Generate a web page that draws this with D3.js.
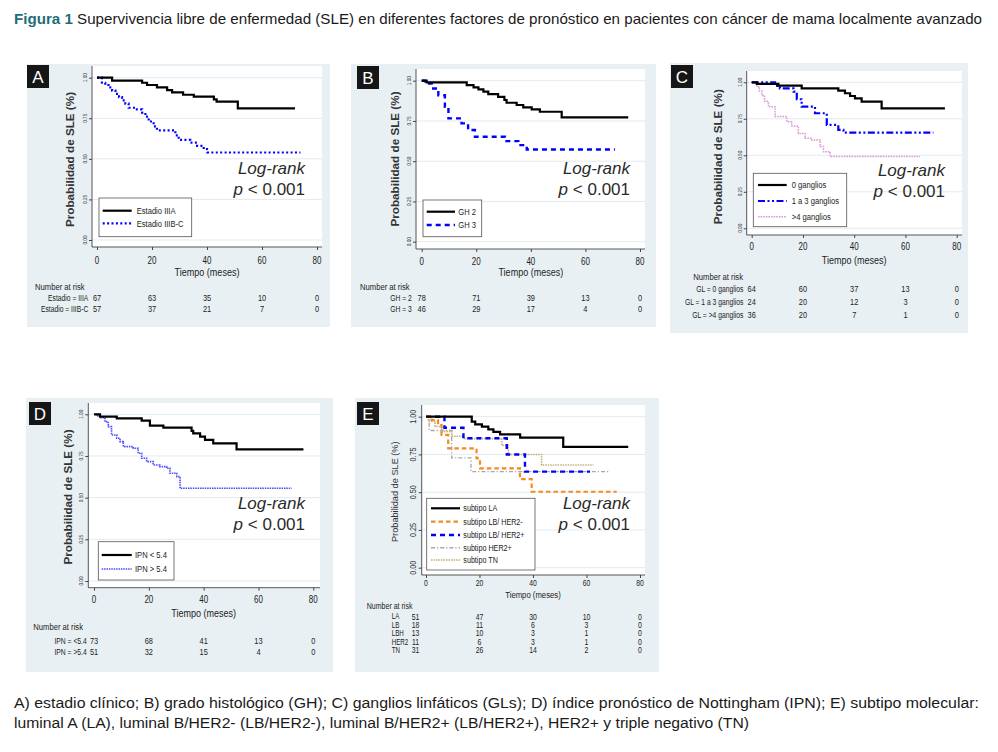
<!DOCTYPE html>
<html><head><meta charset="utf-8">
<script src="https://cdn.jsdelivr.net/npm/d3@7"></script>
<style>body{margin:0;background:#fff;} svg{display:block;font-family:"Liberation Sans",Arial,Helvetica,sans-serif;}</style>
</head><body><svg id="c" width="998" height="752"></svg>
<script>
// ---------- DATA ----------
const monthTicks = [0, 20, 40, 60, 80];
const probTicks = [0, 0.25, 0.5, 0.75, 1];
const probTickLabels = ["0.00", "0.25", "0.50", "0.75", "1.00"];

// Panel A – estadio clínico
const aIIIA_t = [0, 5.5, 16.4, 18.2, 21.8, 25.5, 27.3, 31.3, 35.2, 42.5, 43.5, 51.2, 72];
const aIIIA_s = [1, 0.982, 0.969, 0.955, 0.941, 0.924, 0.910, 0.895, 0.883, 0.866, 0.852, 0.811, 0.811];
const aIIIBC_t = [0, 1.8, 3, 4.2, 5.5, 6.7, 8, 9.1, 10.3, 11.5, 13.9, 16.4, 17.6, 18.8, 20.6, 21.8, 28.5, 29.7, 33.9, 36.4, 38.8, 40, 74];
const aIIIBC_s = [1, 0.969, 0.955, 0.94, 0.92, 0.90, 0.88, 0.86, 0.84, 0.815, 0.805, 0.785, 0.76, 0.73, 0.70, 0.676, 0.645, 0.617, 0.60, 0.58, 0.56, 0.539, 0.539];
const aNarIIIA = [67, 63, 35, 10, 0];
const aNarIIIBC = [57, 37, 21, 7, 0];

// Panel B – grado histológico
const bGH2_t = [0, 1.8, 16.5, 19, 20.8, 22.6, 24.4, 28, 30.3, 31.1, 34.8, 37.2, 40.3, 43.3, 51.3, 75.7];
const bGH2_s = [1, 0.99, 0.973, 0.959, 0.946, 0.932, 0.917, 0.90, 0.88, 0.863, 0.849, 0.834, 0.822, 0.807, 0.772, 0.772];
const bGH3_t = [0, 1.2, 3.7, 6.1, 8.5, 9.8, 14.6, 17, 19.5, 30.5, 35.4, 38.5, 70.8];
const bGH3_s = [1, 0.983, 0.952, 0.91, 0.838, 0.766, 0.735, 0.694, 0.652, 0.625, 0.60, 0.573, 0.573];
const bNarGH2 = [78, 71, 39, 13, 0];
const bNarGH3 = [46, 29, 17, 4, 0];

// Panel C – ganglios linfáticos
const c0_t = [0, 2, 10.4, 19.5, 33.8, 36.4, 38.4, 40.3, 42.9, 50.7, 75.4];
const c0_s = [1, 0.989, 0.977, 0.959, 0.943, 0.925, 0.906, 0.89, 0.868, 0.822, 0.822];
const c13_t = [0, 9.1, 11, 16.3, 17.6, 19.5, 24.7, 29.3, 33.8, 35.8, 70.9];
const c13_s = [1, 0.975, 0.959, 0.936, 0.884, 0.833, 0.788, 0.708, 0.674, 0.655, 0.655];
const c4_t = [0, 2, 3, 4, 5, 6.5, 9.1, 13.7, 15.6, 18.2, 20.8, 23.4, 26.7, 28, 30.6, 65.7];
const c4_s = [1, 0.97, 0.94, 0.91, 0.87, 0.833, 0.765, 0.73, 0.70, 0.65, 0.616, 0.605, 0.56, 0.525, 0.491, 0.491];
const cNar0 = [64, 60, 37, 13, 0];
const cNar13 = [24, 20, 12, 3, 0];
const cNar4 = [36, 20, 7, 1, 0];

// Panel D – índice pronóstico de Nottingham
const dLo_t = [0, 2.2, 8.3, 17.4, 20.4, 25.3, 35.6, 36.2, 38.7, 40.5, 43.5, 52, 76.4];
const dLo_s = [1, 0.986, 0.976, 0.962, 0.932, 0.92, 0.90, 0.886, 0.866, 0.846, 0.826, 0.79, 0.79];
const dHi_t = [0, 1, 2.2, 4, 5.2, 6.4, 8.3, 9.5, 10.7, 14.3, 16.1, 17.4, 19.2, 21.6, 24, 26.5, 27.7, 30.2, 31.4, 72.1];
const dHi_s = [1, 0.99, 0.98, 0.956, 0.926, 0.876, 0.856, 0.836, 0.806, 0.796, 0.766, 0.736, 0.716, 0.696, 0.686, 0.676, 0.646, 0.626, 0.556, 0.556];
const dNarLo = [73, 68, 41, 13, 0];
const dNarHi = [51, 32, 15, 4, 0];

// Panel E – subtipo molecular
const eLA_t = [0, 17.1, 18.4, 20.9, 23.3, 25.2, 27.7, 35.2, 51.3, 75.6];
const eLA_s = [1, 0.967, 0.949, 0.934, 0.916, 0.90, 0.883, 0.861, 0.80, 0.80];
const eLBn_t = [0, 2.1, 4.5, 5.8, 8.3, 18.9, 20.2, 35.1, 39.5, 71.3];
const eLBn_s = [1, 0.978, 0.945, 0.879, 0.79, 0.724, 0.658, 0.587, 0.503, 0.503];
const eLBp_t = [0, 6.9, 14, 30.2, 37, 61.3];
const eLBp_s = [1, 0.927, 0.857, 0.75, 0.636, 0.636];
const eHER2_t = [0, 1.2, 9.6, 16.8, 68.2];
const eHER2_s = [1, 0.909, 0.727, 0.636, 0.636];
const eTN_t = [0, 0.9, 3.4, 5.9, 9.6, 14, 28.3, 30.8, 43.2, 62.6];
const eTN_s = [1, 0.968, 0.935, 0.903, 0.871, 0.855, 0.81, 0.75, 0.68, 0.68];
const eNarLA = [51, 47, 30, 10, 0];
const eNarLB = [18, 11, 6, 3, 0];
const eNarLBH = [13, 10, 3, 1, 0];
const eNarHER2 = [11, 6, 3, 1, 0];
const eNarTN = [31, 26, 14, 2, 0];

const titleBold = "Figura 1";
const titleRest = " Supervivencia libre de enfermedad (SLE) en diferentes factores de pronóstico en pacientes con cáncer de mama localmente avanzado";
const caption1 = "A) estadio clínico; B) grado histológico (GH); C) ganglios linfáticos (GLs); D) índice pronóstico de Nottingham (IPN); E) subtipo molecular:";
const caption2 = "luminal A (LA), luminal B/HER2- (LB/HER2-), luminal B/HER2+ (LB/HER2+), HER2+ y triple negativo (TN)";

// ---------- STYLES ----------
const stSolid = {color: "#000", width: 2.2, dash: null};
const stBlueDot = {color: "#0000ff", width: 2.2, dash: "2,2.4"};
const stBlueDash = {color: "#0000ff", width: 2.4, dash: "5,4"};
const stBlueDashDot = {color: "#0000ff", width: 2.2, dash: "7,2.5,2,2.5,2,2.5"};
const stPink = {color: "#d99ad6", width: 1.5, dash: "1.6,1"};
const stBlueFine = {color: "#4a4aff", width: 1.6, dash: "1.5,0.9"};
const stOrange = {color: "#f58a1f", width: 2.2, dash: "4.5,3"};
const stGray = {color: "#a8a8a8", width: 1.4, dash: "4,2,1.2,2"};
const stKhaki = {color: "#c2b07c", width: 1.6, dash: "1.5,1"};

// ---------- LAYOUT ----------
const panels = [
  {letter: "A", bg: [27, 64, 303, 263], lab: [27, 65], plot: [92, 66, 322, 247], x0: 97, x80: 317, y0: 240, y1: 77.7,
   tickY: 260, xTitleY: 272, yTitle: [70, 159.5, 11.7, "bold"], yTickX: 85, yTickSize: 5.5,
   log: [305, 174, 194.5], nar: {tx: 35, ty: 287, lx: 88.3, anchor: "end", rows: [297.5, 308.5], firstX: null, size: 9},
   leg: {box: [99, 198, 92.7, 38.7], lx: [102.7, 131.7], tx: 136.7, ys: [210.7, 223.3], size: 9.5},
   fs: {tick: 10, xt: 10.5, small: 9},
   series: [
     {t: aIIIBC_t, s: aIIIBC_s, st: stBlueDot, name: "Estadio IIIB-C", nar: aNarIIIBC, narLab: "Estadio = IIIB-C"},
     {t: aIIIA_t, s: aIIIA_s, st: stSolid, name: "Estadio IIIA", nar: aNarIIIA, narLab: "Estadio = IIIA"}
   ], legOrder: [1, 0], narOrder: [1, 0]},
  {letter: "B", bg: [351, 64, 305, 263], lab: [357, 66], plot: [416, 69, 645, 249], x0: 421.7, x80: 640, y0: 241.7, y1: 80.7,
   tickY: 261, xTitleY: 272, yTitle: [395, 159, 11.7, "bold"], yTickX: 409, yTickSize: 5.5,
   log: [630, 174, 194.5], nar: {tx: 360, ty: 287, lx: 411.7, anchor: "end", rows: [298, 309], firstX: null, size: 9},
   leg: {box: [423, 200, 58.7, 36.7], lx: [426.7, 455], tx: 458.3, ys: [211.7, 225], size: 9.5},
   fs: {tick: 10, xt: 10.5, small: 9},
   series: [
     {t: bGH3_t, s: bGH3_s, st: stBlueDash, name: "GH 3", nar: bNarGH3, narLab: "GH = 3"},
     {t: bGH2_t, s: bGH2_s, st: stSolid, name: "GH 2", nar: bNarGH2, narLab: "GH = 2"}
   ], legOrder: [1, 0], narOrder: [1, 0]},
  {letter: "C", bg: [670, 63, 298, 270], lab: [671, 65], plot: [746.7, 71, 962, 235], x0: 751.7, x80: 956.7, y0: 228.3, y1: 82.3,
   tickY: 246.7, xTitleY: 260, yTitle: [718, 156.7, 11.7, "bold"], yTickX: 740, yTickSize: 5.5,
   log: [945, 175.5, 197], nar: {tx: 693.3, ty: 276.7, lx: 743.3, anchor: "end", rows: [288.5, 301.5, 315], firstX: null, size: 9},
   leg: {box: [753.3, 173.3, 93.4, 53.4], lx: [758, 786.7], tx: 791.7, ys: [185, 201, 216.7], size: 9.5},
   fs: {tick: 10, xt: 10.5, small: 9},
   series: [
     {t: c4_t, s: c4_s, st: stPink, name: ">4 ganglios", nar: cNar4, narLab: "GL = >4 ganglios"},
     {t: c13_t, s: c13_s, st: stBlueDashDot, name: "1 a 3 ganglios", nar: cNar13, narLab: "GL = 1 a 3 ganglios"},
     {t: c0_t, s: c0_s, st: stSolid, name: "0 ganglios", nar: cNar0, narLab: "GL = 0 ganglios"}
   ], legOrder: [2, 1, 0], narOrder: [2, 1, 0]},
  {letter: "D", bg: [26, 398, 307, 274], lab: [29, 402], plot: [88.3, 403, 320, 587.7], x0: 94, x80: 313.3, y0: 581, y1: 414.3,
   tickY: 599, xTitleY: 613.3, yTitle: [68.3, 497, 11.7, "bold"], yTickX: 81.5, yTickSize: 5.5,
   log: [305, 509, 529.5], nar: {tx: 33.3, ty: 626.7, lx: 86.7, anchor: "end", rows: [640.7, 651.7], firstX: null, size: 9},
   leg: {box: [98.3, 541.7, 75.7, 38.3], lx: [101.7, 131.7], tx: 135, ys: [555, 569], size: 9.5},
   fs: {tick: 10, xt: 10.5, small: 9},
   series: [
     {t: dHi_t, s: dHi_s, st: stBlueFine, name: "IPN > 5.4", nar: dNarHi, narLab: "IPN = >5.4"},
     {t: dLo_t, s: dLo_s, st: stSolid, name: "IPN < 5.4", nar: dNarLo, narLab: "IPN = <5.4"}
   ], legOrder: [1, 0], narOrder: [1, 0]},
  {letter: "E", bg: [355, 398, 304, 274], lab: [357, 402], plot: [421.7, 405, 645, 575], x0: 426, x80: 640, y0: 567.7, y1: 416.7,
   tickY: 583.3, xTitleY: 595, yTitle: [394.3, 491.7, 9.2, "normal"], yTickX: 413.5, yTickSize: 8.5,
   log: [630, 509, 529.5], nar: {tx: 366.7, ty: 605.7, lx: 391.7, anchor: "start", rows: [616.5, 625, 633.3, 641.7, 650], firstX: 415.5, size: 8.3},
   leg: {box: [426.7, 498.3, 108.3, 71.7], lx: [431, 460], tx: 463.3, ys: [508.3, 521.7, 535, 547.7, 560], size: 9},
   fs: {tick: 8.5, xt: 9, small: 8.5},
   series: [
     {t: eHER2_t, s: eHER2_s, st: stGray, name: "subtipo HER2+", nar: eNarHER2, narLab: "HER2"},
     {t: eTN_t, s: eTN_s, st: stKhaki, name: "subtipo TN", nar: eNarTN, narLab: "TN"},
     {t: eLBp_t, s: eLBp_s, st: stBlueDash, name: "subtipo LB/ HER2+", nar: eNarLBH, narLab: "LBH"},
     {t: eLBn_t, s: eLBn_s, st: stOrange, name: "subtipo LB/ HER2-", nar: eNarLB, narLab: "LB"},
     {t: eLA_t, s: eLA_s, st: stSolid, name: "subtipo LA", nar: eNarLA, narLab: "LA"}
   ], legOrder: [4, 3, 2, 0, 1], narOrder: [4, 3, 2, 0, 1]}
];

// ---------- DRAW ----------
const svg = d3.select("#c");
const BG = "#e9f0f3";

function T(g, x, y, str, o = {}) {
  const sx = o.sx ?? 0.82;
  const rot = o.rot ? ` rotate(${o.rot})` : "";
  const t = g.append("text")
    .attr("transform", `translate(${x},${y})${rot} scale(${sx},1)`)
    .attr("text-anchor", o.anchor || "start")
    .attr("dy", o.dy ?? "0.35em")
    .attr("font-size", o.size || 9)
    .attr("fill", o.fill || "#222")
    .text(str);
  if (o.weight) t.attr("font-weight", o.weight);
  if (o.italic) t.attr("font-style", "italic");
  return t;
}

function styleLine(sel, st) {
  sel.attr("fill", "none").attr("stroke", st.color).attr("stroke-width", st.width);
  if (st.dash) sel.attr("stroke-dasharray", st.dash);
  return sel;
}

// title
const title = svg.append("text").attr("x", 14).attr("y", 24).attr("font-size", 14.5).attr("fill", "#1a1a1a");
title.append("tspan").attr("font-weight", "bold").attr("fill", "#1f6d78").text(titleBold);
title.append("tspan").text(titleRest);
title.attr("textLength", 968).attr("lengthAdjust", "spacingAndGlyphs");

svg.append("text").attr("x", 14).attr("y", 708).attr("font-size", 14).attr("fill", "#1a1a1a")
  .attr("textLength", 965).attr("lengthAdjust", "spacingAndGlyphs").text(caption1);
svg.append("text").attr("x", 14).attr("y", 727.5).attr("font-size", 14).attr("fill", "#1a1a1a")
  .attr("textLength", 735).attr("lengthAdjust", "spacingAndGlyphs").text(caption2);

panels.forEach(p => {
  const g = svg.append("g");
  g.append("rect").attr("x", p.bg[0]).attr("y", p.bg[1]).attr("width", p.bg[2]).attr("height", p.bg[3]).attr("fill", BG);
  const [px1, py1, px2, py2] = p.plot;
  g.append("rect").attr("x", px1).attr("y", py1).attr("width", px2 - px1).attr("height", py2 - py1).attr("fill", "#fff");

  const x = d3.scaleLinear().domain([0, 80]).range([p.x0, p.x80]);
  const y = d3.scaleLinear().domain([0, 1]).range([p.y0, p.y1]);

  // grid
  g.selectAll(".grid").data(probTicks).join("line")
    .attr("x1", px1).attr("x2", px2).attr("y1", d => y(d)).attr("y2", d => y(d))
    .attr("stroke", "#e3ebee").attr("stroke-width", 1);

  // axes
  const yAx = g.append("g").attr("transform", `translate(${px1},0)`)
    .call(d3.axisLeft(y).tickValues(probTicks).tickSize(3).tickFormat(""));
  yAx.select(".domain").remove();
  yAx.selectAll("line").attr("stroke", "#444");
  const xAx = g.append("g").attr("transform", `translate(0,${py2})`)
    .call(d3.axisBottom(x).tickValues(monthTicks).tickSize(3).tickFormat(""));
  xAx.select(".domain").remove();
  xAx.selectAll("line").attr("stroke", "#444");
  g.append("line").attr("x1", px1).attr("x2", px1).attr("y1", py1).attr("y2", py2).attr("stroke", "#444").attr("stroke-width", 0.9);
  g.append("line").attr("x1", px1).attr("x2", px2).attr("y1", py2).attr("y2", py2).attr("stroke", "#444").attr("stroke-width", 0.9);

  probTicks.forEach((v, i) => T(g, p.yTickX, y(v), probTickLabels[i], {rot: -90, anchor: "middle", size: p.yTickSize, sx: 0.85, fill: "#333"}));
  monthTicks.forEach(v => T(g, x(v), p.tickY, String(v), {anchor: "middle", size: p.fs.tick, sx: 0.8, fill: "#222"}));
  T(g, (p.x0 + p.x80) / 2, p.xTitleY, "Tiempo (meses)", {anchor: "middle", size: p.fs.xt, sx: 0.86, fill: "#222"});
  T(g, p.yTitle[0], p.yTitle[1], "Probabilidad de SLE (%)", {rot: -90, anchor: "middle", size: p.yTitle[2], sx: 1, weight: p.yTitle[3], fill: "#333"});

  // curves
  const line = d3.line().x(d => x(d[0])).y(d => y(d[1])).curve(d3.curveStepAfter);
  p.series.forEach(s => {
    const pts = d3.zip(s.t, s.s);
    styleLine(g.append("path").attr("d", line(pts)), s.st);
  });

  // legend
  const L = p.leg;
  g.append("rect").attr("x", L.box[0]).attr("y", L.box[1]).attr("width", L.box[2]).attr("height", L.box[3])
    .attr("fill", "#fff").attr("stroke", "#555").attr("stroke-width", 0.8);
  p.legOrder.forEach((si, k) => {
    const s = p.series[si];
    styleLine(g.append("line").attr("x1", L.lx[0]).attr("x2", L.lx[1]).attr("y1", L.ys[k]).attr("y2", L.ys[k]), s.st);
    T(g, L.tx, L.ys[k], s.name, {size: L.size, sx: 0.8, fill: "#222"});
  });

  // log-rank
  g.append("text").attr("x", p.log[0]).attr("y", p.log[1]).attr("text-anchor", "end").attr("font-size", 17)
    .attr("font-style", "italic").attr("fill", "#2a2a2a").text("Log-rank");
  const pt = g.append("text").attr("x", p.log[0]).attr("y", p.log[2]).attr("text-anchor", "end").attr("font-size", 17).attr("fill", "#2a2a2a");
  pt.append("tspan").attr("font-style", "italic").text("p");
  pt.append("tspan").text(" < 0.001");

  // number at risk
  const N = p.nar;
  T(g, N.tx, N.ty, "Number at risk", {size: N.size, sx: 0.85, fill: "#222"});
  p.narOrder.forEach((si, k) => {
    const s = p.series[si];
    T(g, N.lx, N.rows[k], s.narLab, {anchor: N.anchor, size: N.size, sx: 0.75, fill: "#222"});
    s.nar.forEach((v, j) => {
      const xx = (j === 0 && N.firstX) ? N.firstX : x(monthTicks[j]);
      T(g, xx, N.rows[k], String(v), {anchor: "middle", size: N.size + 0.5, sx: 0.78, fill: "#222"});
    });
  });

  // panel letter
  g.append("rect").attr("x", p.lab[0]).attr("y", p.lab[1]).attr("width", 22).attr("height", 23).attr("fill", "#161616");
  g.append("text").attr("x", p.lab[0] + 11).attr("y", p.lab[1] + 18).attr("text-anchor", "middle")
    .attr("font-size", 17).attr("fill", "#fff").text(p.letter);
});
</script>
</body></html>
